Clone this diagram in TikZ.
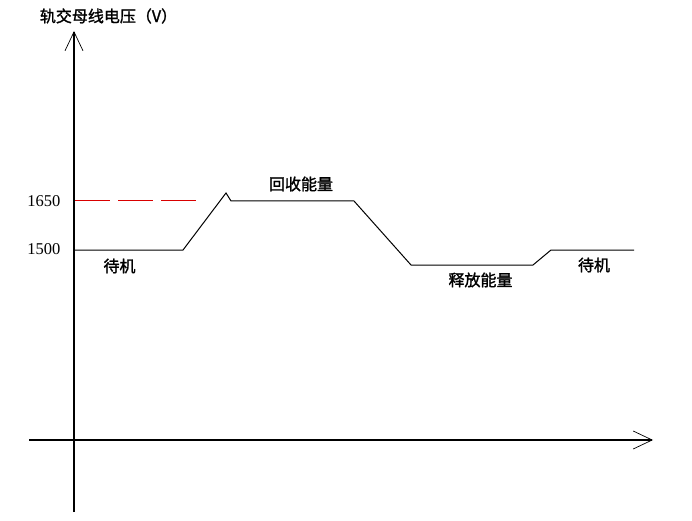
\documentclass[tikz,border=0pt]{standalone}
\usepackage{fontspec}
\setmainfont{Liberation Serif}
\newfontfamily\cjk[AutoFakeBold=1.5]{Noto Sans CJK SC}
\usetikzlibrary{arrows.meta}
\begin{document}
\begin{tikzpicture}[x=1pt,y=-1pt,
  axis/.style={line width=1.1pt,-{Straight Barb[length=19pt,width=18pt,line width=0.7pt]}},
  curve/.style={line width=1pt,line join=miter},
  ref/.style={line width=1pt,red!85!black,dash pattern=on 35pt off 8pt},
  lbl/.style={font=\cjk\bfseries\fontsize{16}{16}\selectfont,inner sep=0pt},
  num/.style={font=\fontsize{16.5}{16.5}\selectfont,inner sep=0pt}]
\useasboundingbox (0,0) rectangle (692,521);
% axes
\coordinate (yb) at (74,512);
\coordinate (yt) at (74,31);
\coordinate (xl) at (29,440);
\coordinate (xr) at (653,440);
\draw[axis] (yb) -- (yt);
\draw[axis] (xl) -- (xr);
% curve points
\coordinate (p0) at (74,250);
\coordinate (p1) at (183,250);
\coordinate (p2) at (226,193);
\coordinate (p3) at (231,201);
\coordinate (p4) at (354,201);
\coordinate (p5) at (411,265);
\coordinate (p6) at (533,265);
\coordinate (p7) at (551,250);
\coordinate (p8) at (634,250);
\draw[curve] (p0) -- (p1) -- (p2) -- (p3) -- (p4) -- (p5) -- (p6) -- (p7) -- (p8);
% reference line 1650
\coordinate (r0) at (75,201);
\coordinate (r1) at (197,201);
\draw[ref] (r0) -- (r1);
% labels
\node[lbl] (title) at (108.5,16) {轨交母线电压（V）};
\node[num,anchor=east] (v1650) at (60.5,201) {1650};
\node[num,anchor=east] (v1500) at (60.5,249.5) {1500};
\node[lbl] (standby1) at (119.5,266) {待机};
\node[lbl] (recover) at (301,184) {回收能量};
\node[lbl] (release) at (480.5,280) {释放能量};
\node[lbl] (standby2) at (594,265) {待机};
\end{tikzpicture}
\end{document}
